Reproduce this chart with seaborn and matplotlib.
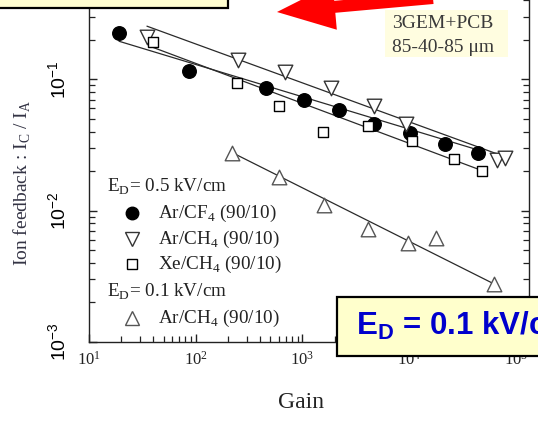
import numpy as np
import pandas as pd
import matplotlib
matplotlib.use("Agg")
import matplotlib.pyplot as plt
import seaborn as sns
from matplotlib.patches import Rectangle, FancyArrow
from matplotlib.lines import Line2D
from matplotlib.ticker import LogLocator, NullFormatter

# --- measured ion feedback vs. gain (3GEM+PCB, 85-40-85 um) ---
arcf4_gain = [19.1, 86.5, 455, 1033, 2197, 4680, 10160, 21600, 44000]
arcf4_fb = [0.224, 0.115, 0.0853, 0.069, 0.058, 0.0453, 0.0387, 0.0324, 0.0277]

arch4_gain = [34.9, 249, 685, 1849, 4680, 9340, 66300, 78900]
arch4_fb = [0.209, 0.140, 0.113, 0.0853, 0.0622, 0.0461, 0.0241, 0.0250]

xech4_gain = [39.8, 243, 603, 1556, 4110, 10620, 26200, 48000]
xech4_fb = [0.191, 0.0932, 0.0622, 0.0394, 0.0438, 0.0337, 0.0249, 0.0202]

arch4_low_gain = [219, 603, 1589, 4110, 9720, 17800, 62200]
arch4_low_fb = [0.0277, 0.0182, 0.0111, 0.00729, 0.0057, 0.00622, 0.00277]

# power-law fit lines (end points)
fit_arcf4_gain = [19.1, 46000]
fit_arcf4_fb = [0.195, 0.0287]
fit_arch4_gain = [34.9, 82400]
fit_arch4_fb = [0.254, 0.0254]
fit_xech4_gain = [39.8, 48000]
fit_xech4_fb = [0.175, 0.0202]
fit_arch4_low_gain = [219, 62200]
fit_arch4_low_fb = [0.0277, 0.00277]

y_ticks = [1e-3, 1e-2, 1e-1]
y_tick_labels = [r"$\mathregular{10^{-3}}$", r"$\mathregular{10^{-2}}$", r"$\mathregular{10^{-1}}$"]
x_ticks = [1e1, 1e2, 1e3, 1e4, 1e5]
x_tick_labels = [r"$\mathregular{10^{%d}}$" % k for k in range(1, 6)]

sns.set_theme(style="ticks")
plt.rcParams["font.family"] = ["Liberation Serif", "DejaVu Serif"]
plt.rcParams["mathtext.fontset"] = "custom"
plt.rcParams["mathtext.rm"] = "Liberation Serif"

W, H = 538, 423
fig = plt.figure(figsize=(W / 100, H / 100), dpi=100)
fig.patch.set_facecolor("white")

# axes geometry in pixels
left_px, right_px, bottom_px = 89, 529, 342
top_px = -52
ax = fig.add_axes([left_px / W, (H - bottom_px) / H,
                   (right_px - left_px) / W, (bottom_px - top_px) / H])
ax.set_facecolor("white")
ax.set_xscale("log")
ax.set_yscale("log")

line_col = "#2a2a2a"
fits = [
    (fit_arch4_gain, fit_arch4_fb),
    (fit_arcf4_gain, fit_arcf4_fb),
    (fit_xech4_gain, fit_xech4_fb),
    (fit_arch4_low_gain, fit_arch4_low_fb),
]
for g, f in fits:
    sns.lineplot(x=g, y=f, ax=ax, color=line_col, lw=0.9, zorder=2)

series = [
    (arcf4_gain, arcf4_fb, "o", "black", "black", 95),
    (arch4_gain, arch4_fb, "v", "white", "#333333", 110),
    (xech4_gain, xech4_fb, "s", "white", "black", 55),
    (arch4_low_gain, arch4_low_fb, "^", "white", "#555555", 110),
]
for g, f, m, fc, ec, s in series:
    sns.scatterplot(x=g, y=f, ax=ax, marker=m, s=s, facecolor=fc,
                    edgecolor=ec, linewidth=1.0, zorder=3)

ax.set_xlim(10, 10 ** 5.122)
ax.set_ylim(1e-3, 1.0)

ax.set_xticks(x_ticks)
ax.set_xticklabels(x_tick_labels, fontsize=12, color="#222222")
ax.xaxis.set_minor_locator(LogLocator(base=10, subs=np.arange(2, 10)))
ax.xaxis.set_minor_formatter(NullFormatter())

ax.set_yticks(y_ticks)
ax.set_yticklabels(y_tick_labels, fontsize=14, rotation=90, va="center",
                   family="Liberation Sans", color="black")
ax.yaxis.set_minor_locator(LogLocator(base=10, subs=np.arange(2, 10)))
ax.yaxis.set_minor_formatter(NullFormatter())

ax.tick_params(axis="both", which="both", direction="in", color="#222222")
ax.tick_params(axis="both", which="major", length=6, width=1.0)
ax.tick_params(axis="both", which="minor", length=4, width=0.9)
ax.tick_params(axis="x", which="major", pad=6)
ax.tick_params(axis="y", which="major", pad=14)
ax.tick_params(axis="y", which="both", right=True)
for sp in ax.spines.values():
    sp.set_color("#222222")
    sp.set_linewidth(1.0)
ax.spines["top"].set_visible(False)
ax.set_xlabel("")
ax.set_ylabel("")


def px(x, y):
    return x / W, 1 - y / H


fig.text(*px(301, 402), "Gain", ha="center", va="center", fontsize=17,
         color="#222222")
fig.text(*px(22, 183), r"Ion feedback : I$_\mathregular{C}$ / I$_\mathregular{A}$",
         rotation=90, ha="center", va="center", fontsize=14, color="#333344")

# legend block
leg_fs = 13.8
fig.text(*px(107, 187), r"E$_\mathregular{D}$= 0.5 kV/cm", fontsize=leg_fs,
         va="center", color="#222222")
fig.text(*px(107, 292), r"E$_\mathregular{D}$= 0.1 kV/cm", fontsize=leg_fs,
         va="center", color="#222222")
legend_rows = [
    (213, "o", "black", "black", 9, r"Ar/CF$_\mathregular{4}$ (90/10)"),
    (239, "v", "white", "#333333", 10, r"Ar/CH$_\mathregular{4}$ (90/10)"),
    (264, "s", "white", "black", 7.5, r"Xe/CH$_\mathregular{4}$ (90/10)"),
    (318, "^", "white", "#555555", 10, r"Ar/CH$_\mathregular{4}$ (90/10)"),
]
for yy, m, fc, ec, ms, lab in legend_rows:
    fig.add_artist(Line2D([132 / W], [1 - yy / H], marker=m, ms=ms,
                          markerfacecolor=fc, markeredgecolor=ec, mew=1.0,
                          linestyle="none", transform=fig.transFigure))
    fig.text(*px(158, yy), lab, fontsize=leg_fs, va="center", color="#222222")

# info box
fig.add_artist(Rectangle(px(385, 57), 123 / W, 47 / H, transform=fig.transFigure,
                         facecolor="#fffde0", edgecolor="none", zorder=1))
fig.text(*px(392, 24), "3GEM+PCB", fontsize=14, va="center", color="#3a3a3a", zorder=2)
fig.text(*px(392, 48), "85-40-85 \u03bcm", fontsize=14, va="center", color="#3a3a3a", zorder=2)

# top-left callout box edge
fig.add_artist(Rectangle(px(-5, 8), 233 / W, 20 / H, transform=fig.transFigure,
                         facecolor="#fffdd0", edgecolor="black", lw=1.6, zorder=5))

# red arrow
arrow = FancyArrow(433 / 100, (H + 2) / 100, -156 / 100, -14 / 100,
                   width=12 / 100, head_width=46 / 100, head_length=58 / 100,
                   length_includes_head=True, color="#ff0000", lw=0,
                   transform=fig.dpi_scale_trans, zorder=6)
fig.add_artist(arrow)

# highlighted drift-field box
fig.add_artist(Rectangle(px(337, 356), 220 / W, 59 / H, transform=fig.transFigure,
                         facecolor="#ffffcc", edgecolor="black", lw=1.6, zorder=5))
fig.text(*px(356, 326), r"E$_\mathregular{D}$ = 0.1 kV/cm", fontsize=22.5,
         fontweight="bold", family="Liberation Sans", color="#0000cc",
         va="center", zorder=6)

fig.savefig("out.png", dpi=100)
